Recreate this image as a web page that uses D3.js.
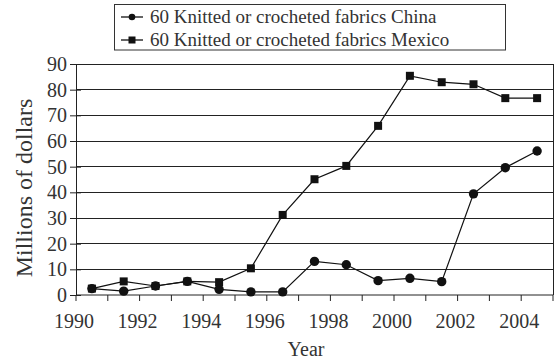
<!DOCTYPE html>
<html><head><meta charset="utf-8">
<script src="https://cdn.jsdelivr.net/npm/d3@7"></script>
<style>body{margin:0;background:#fff}svg{display:block}</style>
</head><body>
<script>
const years = [1990,1991,1992,1993,1994,1995,1996,1997,1998,1999,2000,2001,2002,2003,2004];
const china = [2.5,1.5,3.5,5.3,2.2,1.2,1.2,13.1,11.8,5.6,6.5,5.2,39.4,49.6,56.1];
const mexico = [2.5,5.3,3.5,5.3,5.0,10.4,31.2,45.1,50.3,65.9,85.4,82.9,82.1,76.7,76.7];
const yTicks = [0,10,20,30,40,50,60,70,80,90];
const xLabels = [1990,1992,1994,1996,1998,2000,2002,2004];
const seriesNames = ["60 Knitted or crocheted fabrics China","60 Knitted or crocheted fabrics Mexico"];

const FONT="'Liberation Serif', 'Times New Roman', serif";
const W=554,H=361, L=76,R=553,T=64,B=295;
const svg=d3.select("body").append("svg").attr("width",W).attr("height",H);
const x=d3.scaleBand().domain(years).range([L,R]).paddingInner(0).paddingOuter(0);
const y=d3.scaleLinear().domain([0,90]).range([B,T]);
const cx=d=>x(d)+x.bandwidth()/2;

// gridlines
svg.append("g").selectAll("line").data(yTicks.filter(d=>d>0)).join("line")
 .attr("x1",L).attr("x2",R).attr("y1",d=>y(d)).attr("y2",d=>y(d))
 .attr("stroke","#222").attr("stroke-width",1).attr("shape-rendering","crispEdges");
svg.append("line").attr("x1",R).attr("x2",R).attr("y1",T).attr("y2",B)
 .attr("stroke","#222").attr("shape-rendering","crispEdges");

// y axis
const ya=svg.append("g").attr("transform",`translate(${L},0)`)
 .call(d3.axisLeft(y).tickValues(yTicks).tickSize(5).tickSizeOuter(0));
ya.attr("font-family",null).attr("font-size",null);
ya.select(".domain").attr("stroke","#222");
ya.selectAll(".tick line").attr("x1",-6).attr("x2",5).attr("stroke","#222");
ya.selectAll(".tick text").attr("x",-9).style("font-size","20px").style("font-family",FONT).attr("fill","#333");

// x axis
const xa=svg.append("g").attr("transform",`translate(0,${B})`);
xa.append("line").attr("x1",L).attr("x2",R).attr("stroke","#222");
const tickPos=years.map(d=>x(d)).concat([R]);
xa.selectAll("line.t").data(tickPos).join("line").attr("class","t")
 .attr("x1",d=>d).attr("x2",d=>d).attr("y1",0).attr("y2",6).attr("stroke","#222");
xa.selectAll("text").data(xLabels).join("text")
 .attr("x",d=>x(d)-2).attr("y",33).attr("text-anchor","middle")
 .style("font-size","20px").style("font-family",FONT).attr("fill","#333").text(d=>d);

// labels
svg.append("text").attr("x",306).attr("y",356).attr("text-anchor","middle")
 .style("font-size","20px").style("font-family",FONT).attr("fill","#333").text("Year");
svg.append("text").attr("transform","translate(32,188) rotate(-90)").attr("text-anchor","middle")
 .style("font-size","24px").style("font-family",FONT).attr("fill","#333").text("Millions of dollars");

// lines
const line=d3.line().x((d,i)=>cx(years[i])).y(d=>y(d));
svg.append("path").datum(mexico).attr("d",line).attr("fill","none").attr("stroke","#111").attr("stroke-width",1.2);
svg.append("path").datum(china).attr("d",line).attr("fill","none").attr("stroke","#111").attr("stroke-width",1.2);
svg.append("g").selectAll("rect").data(mexico).join("rect")
 .attr("x",(d,i)=>cx(years[i])-4).attr("y",d=>y(d)-4).attr("width",8).attr("height",8).attr("fill","#111");
svg.append("g").selectAll("circle").data(china).join("circle")
 .attr("cx",(d,i)=>cx(years[i])).attr("cy",d=>y(d)).attr("r",4.7).attr("fill","#111");

// legend
const lg=svg.append("g");
lg.append("rect").attr("x",114.5).attr("y",4.5).attr("width",391).attr("height",45.5).attr("fill","#fff").attr("stroke","#333");
const rows=[17,40];
rows.forEach((ry,i)=>{
 lg.append("line").attr("x1",121).attr("x2",143).attr("y1",ry).attr("y2",ry).attr("stroke","#111").attr("stroke-width",1.3);
 if(i===0) lg.append("circle").attr("cx",132).attr("cy",ry).attr("r",3.3).attr("fill","#111");
 else lg.append("rect").attr("x",128.5).attr("y",ry-3.5).attr("width",7).attr("height",7).attr("fill","#111");
 lg.append("text").attr("x",150).attr("y",ry+6).style("font-size","19px").style("font-family",FONT).attr("fill","#333").text(seriesNames[i]);
});
</script>
</body></html>
